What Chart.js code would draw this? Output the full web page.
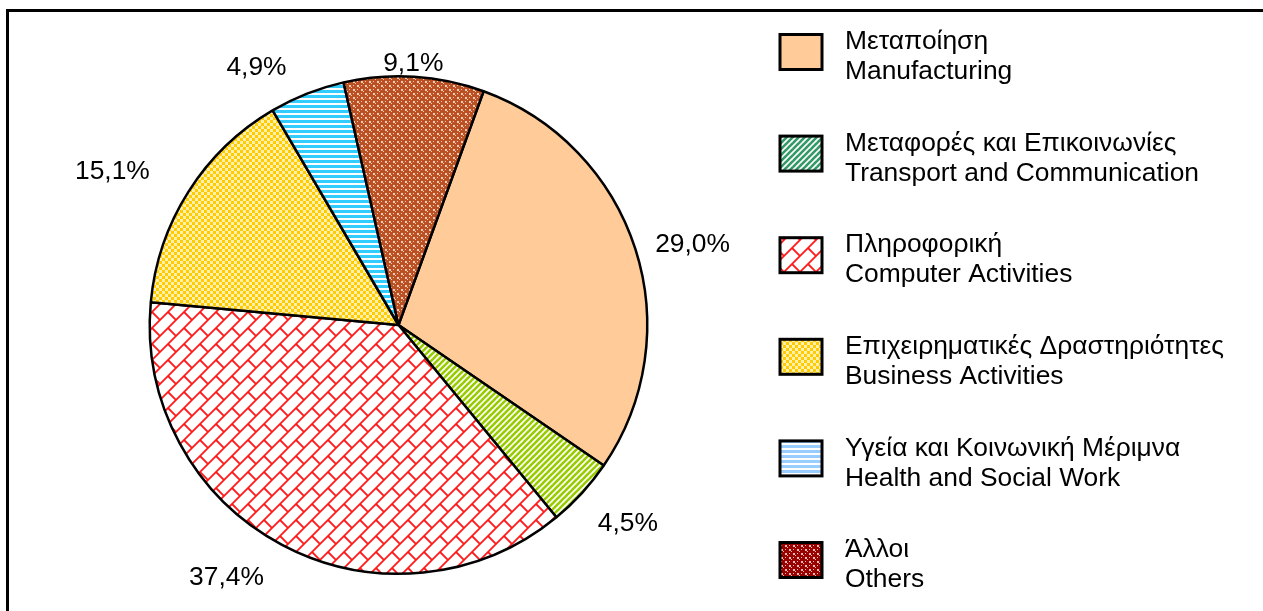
<!DOCTYPE html>
<html>
<head>
<meta charset="utf-8">
<script src="https://cdn.jsdelivr.net/npm/chart.js@4/dist/chart.umd.min.js"></script>
<style>
  body { margin: 0; background: #fff; }
  #wrap { width: 1263px; height: 611px; }
</style>
</head>
<body>
<div id="wrap"><canvas id="pieChart" width="1263" height="611"></canvas></div>
<script>
'use strict';
// chart data
let sectorsGreek = ['Μεταποίηση', 'Μεταφορές και Επικοινωνίες', 'Πληροφορική', 'Επιχειρηματικές Δραστηριότητες', 'Υγεία και Κοινωνική Μέριμνα', 'Άλλοι'];
let sectorsEnglish = ['Manufacturing', 'Transport and Communication', 'Computer Activities', 'Business Activities', 'Health and Social Work', 'Others'];
let shares = [29.0, 4.5, 37.4, 15.1, 4.9, 9.1];

// fill styles (pie and legend use slightly different tints, like the original)
let patternKinds = ['solid', 'diag', 'shingle', 'checker', 'hstripe', 'weave'];
let pieColors = ['#FFCC99', '#99CC00', '#FF1A1A', '#FFCC00', '#33CCFF', '#BB5022'];
let legendColors = ['#FFCC99', '#339966', '#FF1A1A', '#FFCC00', '#99CCFF', '#990000'];
// label placement: distance from pie centre and turn (deg) away from the slice middle
let labelDistance = [305, 303, 305, 325, 295, 263];
let labelTurn = [2.4, -1.7, 6.4, -4.1, -7.2, -0.4];

let fontName = '"Liberation Sans", Arial, sans-serif';

function makeFill(kind, color) {
  if (kind === 'solid') return color;
  let c = document.createElement('canvas');
  let g = c.getContext('2d');
  if (kind === 'diag') {
    c.width = 6; c.height = 6;
    g.fillStyle = '#fff'; g.fillRect(0, 0, 6, 6);
    g.strokeStyle = color; g.lineWidth = 2.6;
    for (let k = -6; k <= 12; k += 6) {
      g.beginPath(); g.moveTo(k - 6, 12); g.lineTo(k + 12, -6); g.stroke();
    }
  } else if (kind === 'shingle') {
    c.width = 16; c.height = 16;
    g.fillStyle = '#fff'; g.fillRect(0, 0, 16, 16);
    g.strokeStyle = color; g.lineWidth = 1.8;
    g.beginPath();
    g.moveTo(-2, 18); g.lineTo(18, -2);
    g.moveTo(-2, 2); g.lineTo(2, -2);
    g.moveTo(14, 18); g.lineTo(18, 14);
    g.moveTo(8, 8); g.lineTo(16, 16);
    g.stroke();
  } else if (kind === 'checker') {
    c.width = 6; c.height = 6;
    g.fillStyle = '#fff'; g.fillRect(0, 0, 6, 6);
    g.fillStyle = color;
    g.fillRect(0, 0, 3, 3); g.fillRect(3, 3, 3, 3);
    g.globalAlpha = 0.3;
    g.fillRect(3, 0, 3, 3); g.fillRect(0, 3, 3, 3);
  } else if (kind === 'hstripe') {
    c.width = 4; c.height = 5;
    g.fillStyle = '#fff'; g.fillRect(0, 0, 4, 5);
    g.fillStyle = color; g.fillRect(0, 0, 4, 3);
  } else if (kind === 'weave') {
    c.width = 8; c.height = 8;
    g.fillStyle = color; g.fillRect(0, 0, 8, 8);
    g.fillStyle = 'rgba(255,235,225,0.8)';
    g.fillRect(1, 1, 2, 2); g.fillRect(5, 5, 2, 2);
    g.fillRect(5, 1, 1, 1); g.fillRect(1, 5, 1, 1);
    g.fillRect(3, 3, 1, 1); g.fillRect(7, 7, 1, 1);
  }
  return g.createPattern(c, 'repeat');
}

let pieFills = pieColors.map((col, i) => makeFill(patternKinds[i], col));
let legendFills = legendColors.map((col, i) => makeFill(patternKinds[i], col));

function formatShare(v) {
  return v.toFixed(1).replace('.', ',') + '%';
}

let decorPlugin = {
  id: 'decor',
  afterDraw(chart) {
    let ctx = chart.ctx;
    ctx.save();
    // outer frame
    ctx.strokeStyle = '#000';
    ctx.lineWidth = 3;
    ctx.strokeRect(7.5, 10.5, 1400, 800);

    // percentage labels
    ctx.font = '26.4px ' + fontName;
    ctx.fillStyle = '#000';
    ctx.textAlign = 'center';
    ctx.textBaseline = 'middle';
    let arcs = chart.getDatasetMeta(0).data;
    arcs.forEach((arc, i) => {
      let a = (arc.startAngle + arc.endAngle) / 2 + labelTurn[i] * Math.PI / 180;
      let d = labelDistance[i];
      ctx.fillText(formatShare(shares[i]), arc.x + Math.cos(a) * d, arc.y + Math.sin(a) * d + 1);
    });

    // legend
    let boxX = 780, boxW = 42, boxH = 35;
    for (let i = 0; i < sectorsGreek.length; i++) {
      let cy = 52 + 101.6 * i;
      ctx.fillStyle = legendFills[i];
      ctx.fillRect(boxX, cy - boxH / 2, boxW, boxH);
      ctx.lineWidth = 3;
      ctx.strokeStyle = '#000';
      ctx.strokeRect(boxX, cy - boxH / 2, boxW, boxH);
      ctx.fillStyle = '#000';
      ctx.textAlign = 'left';
      ctx.fillText(sectorsGreek[i], 845, cy - 10);
      ctx.fillText(sectorsEnglish[i], 845, cy + 20);
    }
    ctx.restore();
  }
};

let context = document.getElementById('pieChart').getContext('2d');
let chart = new Chart(context, {
  type: 'pie',
  data: {
    labels: sectorsEnglish,
    datasets: [{
      data: shares,
      backgroundColor: pieFills,
      borderColor: '#000',
      borderWidth: 2.5
    }]
  },
  options: {
    responsive: false,
    animation: false,
    rotation: 20,
    layout: { padding: { left: 148, top: 75, right: 614, bottom: 36 } },
    plugins: {
      legend: { display: false },
      tooltip: { enabled: false }
    }
  },
  plugins: [decorPlugin]
});
</script>
</body>
</html>
